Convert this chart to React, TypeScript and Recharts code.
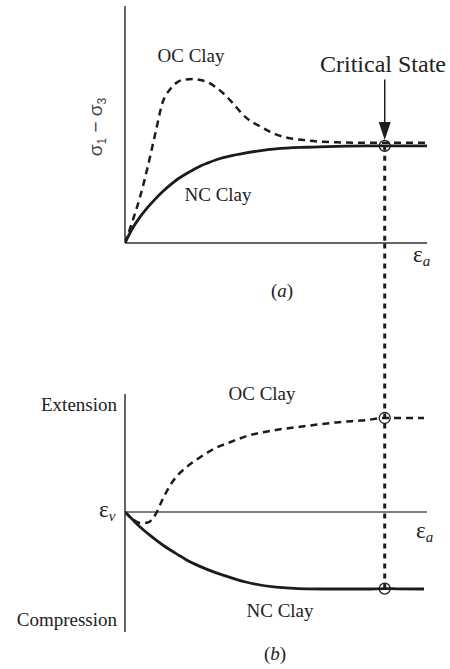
import React from 'react'
import { LineChart, Line, XAxis, YAxis, ReferenceLine, ReferenceDot } from 'recharts'

// (a) deviator stress vs axial strain
const STRAIN_A = [0, 0.25, 0.5, 0.75, 1, 1.25, 1.5, 1.75, 2, 2.25, 2.5, 2.75, 3, 3.25, 3.5, 4, 4.5, 5, 6, 7, 8, 8.6, 9, 10]
const STRESS_NC = [0, 0.62, 1.1, 1.5, 1.85, 2.17, 2.45, 2.7, 2.9, 3.08, 3.25, 3.38, 3.5, 3.6, 3.68, 3.8, 3.9, 3.97, 4.04, 4.08, 4.1, 4.1, 4.1, 4.1]
const STRESS_OC = [0, 0.93, 1.95, 3.2, 4.6, 5.95, 6.5, 6.8, 6.9, 6.92, 6.88, 6.78, 6.58, 6.32, 6.0, 5.3, 4.9, 4.58, 4.33, 4.25, 4.23, 4.23, 4.23, 4.23]

// (b) volumetric strain vs axial strain
const STRAIN_B = [0, 0.25, 0.5, 0.75, 1, 1.25, 1.5, 1.75, 2, 2.5, 3, 3.5, 4, 5, 6, 7, 8, 8.6, 9, 9.9]
const VOL_NC = [0, -0.38, -0.75, -1.07, -1.37, -1.65, -1.9, -2.13, -2.36, -2.73, -3.03, -3.28, -3.5, -3.76, -3.84, -3.85, -3.85, -3.83, -3.84, -3.85]
const VOL_OC = [0, -0.35, -0.55, -0.52, -0.15, 0.65, 1.35, 1.85, 2.2, 2.75, 3.2, 3.5, 3.78, 4.1, 4.3, 4.48, 4.6, 4.7, 4.7, 4.7]

const CRITICAL_STRAIN = 8.6
const X_MAX = 10
const Y_MAX_A = 10
const Y_RANGE_B: [number, number] = [-6, 13.45]

const INK = '#1c1c1c'
const AXIS = '#333'
const SERIF = 'Liberation Serif'

const dataA = STRAIN_A.map((x, i) => ({ x, nc: STRESS_NC[i], oc: STRESS_OC[i] }))
const dataB = STRAIN_B.map((x, i) => ({ x, nc: VOL_NC[i], oc: VOL_OC[i] }))

const critA = STRESS_NC[STRAIN_A.indexOf(CRITICAL_STRAIN)]
const critNcB = VOL_NC[STRAIN_B.indexOf(CRITICAL_STRAIN)]
const critOcB = VOL_OC[STRAIN_B.indexOf(CRITICAL_STRAIN)]

const ArrowHead = (props: any) => {
  const { cx, cy } = props
  return <polygon points={`${cx - 6},${cy - 18} ${cx + 6},${cy - 18} ${cx},${cy}`} fill={INK} />
}

const Ring = (props: any) => {
  const { cx, cy } = props
  return <circle cx={cx} cy={cy} r={5.5} fill="none" stroke={INK} strokeWidth={1.3} />
}

const Label = ({ x, y, anchor = 'start', size = 19, children }: any) => (
  <text x={x} y={y} textAnchor={anchor} fontFamily={SERIF} fontSize={size} fill="#222">
    {children}
  </text>
)

// epsilon with an italic subscript
const Strain = ({ x, y, sub }: { x: number; y: number; sub: string }) => (
  <text x={x} y={y} fontFamily={SERIF} fontSize={23} fill="#222">
    ε<tspan dy={4} fontSize={15} fontStyle="italic">{sub}</tspan>
  </text>
)

export default function App() {
  return (
    <div style={{ position: 'absolute', left: 0, top: 0, width: 450, height: 669, background: '#fff' }}>
      <div style={{ position: 'absolute', left: 0, top: 0 }}>
        <LineChart width={450} height={250} data={dataA} margin={{ top: 6, right: 23, bottom: 7, left: 125 }}>
          <XAxis dataKey="x" type="number" domain={[0, X_MAX]} allowDataOverflow hide />
          <YAxis type="number" domain={[0, Y_MAX_A]} allowDataOverflow hide />
          <ReferenceLine segment={[{ x: 0, y: 0 }, { x: 0, y: Y_MAX_A }]} stroke={AXIS} strokeWidth={1.5} />
          <ReferenceLine segment={[{ x: 0, y: 0 }, { x: X_MAX, y: 0 }]} stroke={AXIS} strokeWidth={1.5} />
          <ReferenceLine
            segment={[{ x: CRITICAL_STRAIN, y: critA }, { x: CRITICAL_STRAIN, y: 0 }]}
            stroke={INK}
            strokeWidth={3}
            strokeDasharray="5 5"
          />
          <Line dataKey="oc" type="monotone" stroke={INK} strokeWidth={2.5} strokeDasharray="7 5" dot={false} isAnimationActive={false} />
          <Line dataKey="nc" type="monotone" stroke={INK} strokeWidth={2.8} dot={false} isAnimationActive={false} />
          <ReferenceLine
            segment={[{ x: CRITICAL_STRAIN, y: 6.9 }, { x: CRITICAL_STRAIN, y: 5.0 }]}
            stroke={INK}
            strokeWidth={1.5}
          />
          <ReferenceDot x={CRITICAL_STRAIN} y={4.35} r={1} shape={ArrowHead} />
          <ReferenceDot x={CRITICAL_STRAIN} y={critA} r={5.5} shape={Ring} />
        </LineChart>
      </div>

      <div style={{ position: 'absolute', left: 0, top: 243 }}>
        <LineChart width={450} height={426} data={dataB} margin={{ top: 0, right: 23, bottom: 37, left: 125 }}>
          <XAxis dataKey="x" type="number" domain={[0, X_MAX]} allowDataOverflow hide />
          <YAxis type="number" domain={Y_RANGE_B} allowDataOverflow hide />
          <ReferenceLine segment={[{ x: 0, y: -6 }, { x: 0, y: 5.9 }]} stroke={AXIS} strokeWidth={1.5} />
          <ReferenceLine segment={[{ x: 0, y: 0 }, { x: X_MAX, y: 0 }]} stroke="#555" strokeWidth={1.5} />
          <ReferenceLine
            segment={[{ x: CRITICAL_STRAIN, y: critNcB }, { x: CRITICAL_STRAIN, y: Y_RANGE_B[1] }]}
            stroke={INK}
            strokeWidth={3}
            strokeDasharray="5 5"
          />
          <Line dataKey="oc" type="monotone" stroke={INK} strokeWidth={2.5} strokeDasharray="7 5" dot={false} isAnimationActive={false} />
          <Line dataKey="nc" type="monotone" stroke={INK} strokeWidth={2.8} dot={false} isAnimationActive={false} />
          <ReferenceDot x={CRITICAL_STRAIN} y={critOcB} r={5.5} shape={Ring} />
          <ReferenceDot x={CRITICAL_STRAIN} y={critNcB} r={5.5} shape={Ring} />
        </LineChart>
      </div>

      <svg width={450} height={669} style={{ position: 'absolute', left: 0, top: 0, pointerEvents: 'none' }}>
        {/* panel (a) */}
        <Label x={191} y={62} anchor="middle">OC Clay</Label>
        <Label x={218} y={201} anchor="middle">NC Clay</Label>
        <Label x={383} y={72} anchor="middle" size={24}>Critical State</Label>
        <text
          x={102}
          y={127}
          textAnchor="middle"
          transform="rotate(-90 102 127)"
          fontFamily="Liberation Sans"
          fontSize={19}
          fill="#444"
        >
          σ<tspan dy={4} fontSize={12}>1</tspan><tspan dy={-4}> − σ</tspan><tspan dy={4} fontSize={12}>3</tspan>
        </text>
        <Strain x={413} y={262} sub="a" />
        <Label x={282} y={297} anchor="middle">
          (<tspan fontStyle="italic">a</tspan>)
        </Label>

        {/* panel (b) */}
        <Label x={262} y={400} anchor="middle">OC Clay</Label>
        <Label x={117} y={411} anchor="end">Extension</Label>
        <Strain x={99} y={517} sub="v" />
        <Strain x={416} y={538} sub="a" />
        <Label x={280} y={617} anchor="middle">NC Clay</Label>
        <Label x={117} y={626} anchor="end">Compression</Label>
        <Label x={275} y={660} anchor="middle">
          (<tspan fontStyle="italic">b</tspan>)
        </Label>
      </svg>
    </div>
  )
}
